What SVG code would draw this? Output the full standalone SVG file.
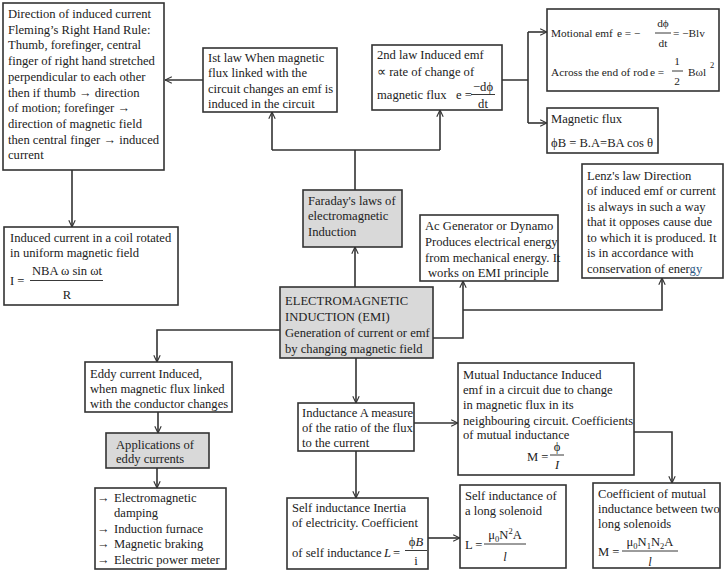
<svg xmlns="http://www.w3.org/2000/svg" width="725" height="577" viewBox="0 0 725 577">
<defs>
<style>
text{font-family:"Liberation Serif","Times New Roman",serif;font-size:12.6px;fill:#222}
.b{fill:#fff;stroke:#333;stroke-width:1.6}
.g{fill:#d9d9d9;stroke:#333;stroke-width:1.6}
.c{fill:none;stroke:#333;stroke-width:1.6}
.m{text-anchor:middle}
.i{font-style:italic}
.s{font-size:8.5px}
.k{font-size:11.3px}
.fl{stroke:#222;stroke-width:0.9}
</style>
<marker id="a" viewBox="0 0 10 10" refX="9.5" refY="5" markerWidth="8" markerHeight="8" orient="auto" markerUnits="userSpaceOnUse">
<path d="M1,1 L9.5,5 L1,9" fill="none" stroke="#333" stroke-width="1.4"/>
</marker>
</defs>
<rect width="725" height="577" fill="#fff"/>

<g id="connectors">
<path class="c" d="M355,190 V150 M272,150 H440" />
<path class="c" d="M272,150 V112" marker-end="url(#a)"/>
<path class="c" d="M440,150 V110" marker-end="url(#a)"/>
<path class="c" d="M203,80 H165" marker-end="url(#a)"/>
<path class="c" d="M72,170 V227" marker-end="url(#a)"/>
<path class="c" d="M502,80 H528 M528,32 V123"/>
<path class="c" d="M528,32 H547" marker-end="url(#a)"/>
<path class="c" d="M528,123 H547" marker-end="url(#a)"/>
<path class="c" d="M355,287 V247" marker-end="url(#a)"/>
<path class="c" d="M433,338 H463 V281" marker-end="url(#a)"/>
<path class="c" d="M463,310 H662 V278" marker-end="url(#a)"/>
<path class="c" d="M280,330 H157 V362" marker-end="url(#a)"/>
<path class="c" d="M158,412 V433" marker-end="url(#a)"/>
<path class="c" d="M157,468 V488" marker-end="url(#a)"/>
<path class="c" d="M356,358 V403" marker-end="url(#a)"/>
<path class="c" d="M414,423 H458" marker-end="url(#a)"/>
<path class="c" d="M356,451 V498" marker-end="url(#a)"/>
<path class="c" d="M634,432 H672 V483" marker-end="url(#a)"/>
<path class="c" d="M428,538 H460" marker-end="url(#a)"/>
</g>

<g id="direction">
<rect class="b" x="3" y="3" width="161" height="167"/>
<text x="8" y="18">Direction of induced current</text>
<text x="8" y="33.7">Fleming’s Right Hand Rule:</text>
<text x="8" y="49.4">Thumb, forefinger, central</text>
<text x="8" y="65.1">finger of right hand stretched</text>
<text x="8" y="80.8">perpendicular to each other</text>
<text x="8" y="96.5">then if thumb → direction</text>
<text x="8" y="112.2">of motion; forefinger →</text>
<text x="8" y="127.9">direction of magnetic field</text>
<text x="8" y="143.6">then central finger → induced</text>
<text x="8" y="159.3">current</text>
</g>

<g id="law1">
<rect class="b" x="203" y="48" width="134" height="64"/>
<text x="208" y="61.5">Ist law When magnetic</text>
<text x="208" y="77">flux linked with the</text>
<text x="208" y="92.5">circuit changes an emf is</text>
<text x="208" y="108">induced in the circuit</text>
</g>

<g id="law2">
<rect class="b" x="372" y="45" width="130" height="65"/>
<text x="377" y="59">2nd law Induced emf</text>
<text x="377" y="76">∝ rate of change of</text>
<text x="377" y="99">magnetic flux</text>
<text x="456" y="99">e =</text>
<text class="m" x="483" y="91">−dϕ</text>
<line class="fl" x1="471" y1="94.5" x2="495" y2="94.5"/>
<text class="m" x="483" y="107.5">dt</text>
</g>

<g id="motional">
<rect class="b" x="547" y="9" width="172" height="82"/>
<text class="k" x="551" y="37">Motional emf</text>
<text class="k" x="617" y="37">e = −</text>
<text class="m k" x="663" y="27">dϕ</text>
<line class="fl" x1="655" y1="33" x2="671" y2="33"/>
<text class="m k" x="663" y="47">dt</text>
<text class="k" x="673" y="37">= −Blv</text>
<text class="k" x="551" y="76">Across the end of rod</text>
<text class="k" x="650" y="76">e =</text>
<text class="m k" x="677" y="65">1</text>
<line class="fl" x1="672" y1="71" x2="683" y2="71"/>
<text class="m k" x="677" y="85">2</text>
<text class="k" x="688" y="76">Bωl</text>
<text class="s" x="710" y="68">2</text>
</g>

<g id="flux">
<rect class="b" x="547" y="108" width="111" height="45"/>
<text x="551" y="123">Magnetic flux</text>
<text x="551" y="147">ϕB = B.A=BA cos θ</text>
</g>

<g id="lenz">
<rect class="b" x="582" y="164" width="141" height="114"/>
<text x="587" y="179.5">Lenz's law Direction</text>
<text x="587" y="195">of induced emf or current</text>
<text x="587" y="210.5">is always in such a way</text>
<text x="587" y="226">that it opposes cause due</text>
<text x="587" y="241.5">to which it is produced. It</text>
<text x="587" y="257">is in accordance with</text>
<text x="587" y="272.5">conservation of ener<tspan fill="#2f5a86">gy</tspan></text>
</g>

<g id="generator">
<rect class="b" x="420" y="215" width="138" height="66"/>
<text x="425" y="229.5">Ac Generator or Dynamo</text>
<text x="425" y="245.5">Produces electrical energy</text>
<text x="425" y="261.5">from mechanical energy. It</text>
<text x="428" y="276.5">works on EMI principle</text>
</g>

<g id="faraday">
<rect class="g" x="303" y="190" width="99" height="57"/>
<text x="308" y="204.5">Faraday's laws of</text>
<text x="308" y="219.5">electromagnetic</text>
<text x="308" y="235.5">Induction</text>
</g>

<g id="emi">
<rect class="g" x="280" y="287" width="153" height="71"/>
<text x="285" y="304.5">ELECTROMAGNETIC</text>
<text x="285" y="320.5">INDUCTION (EMI)</text>
<text x="285" y="336.5">Generation of current or emf</text>
<text x="285" y="352.5">by changing magnetic field</text>
</g>

<g id="coil">
<rect class="b" x="4" y="227" width="174" height="78"/>
<text x="10" y="241.5">Induced current in a coil rotated</text>
<text x="10" y="256.5">in uniform magnetic field</text>
<text x="10" y="285">I =</text>
<text class="m" x="67" y="275">NBA ω sin ωt</text>
<line class="fl" x1="30" y1="280.5" x2="103" y2="280.5"/>
<text class="m" x="67" y="299">R</text>
</g>

<g id="eddy">
<rect class="b" x="85" y="362" width="147" height="50"/>
<text x="90" y="377.5">Eddy current Induced,</text>
<text x="90" y="392.5">when magnetic flux linked</text>
<text x="90" y="407.5">with the conductor changes</text>
</g>

<g id="applications">
<rect class="g" x="106" y="433" width="103" height="35"/>
<text x="116" y="449">Applications of</text>
<text x="116" y="463">eddy currents</text>
</g>

<g id="applist">
<rect class="b" x="95" y="488" width="131" height="81"/>
<text x="97" y="501.5">→</text><text x="114" y="501.5">Electromagnetic</text>
<text x="114" y="517">damping</text>
<text x="97" y="532.5">→</text><text x="114" y="532.5">Induction furnace</text>
<text x="97" y="548">→</text><text x="114" y="548">Magnetic braking</text>
<text x="97" y="563.5">→</text><text x="114" y="563.5">Electric power meter</text>
</g>

<g id="inductance">
<rect class="b" x="298" y="403" width="116" height="48"/>
<text x="302" y="416.5">Inductance A measure</text>
<text x="302" y="431.5">of the ratio of the flux</text>
<text x="302" y="447">to the current</text>
</g>

<g id="mutual">
<rect class="b" x="458" y="363" width="176" height="112"/>
<text x="463" y="379">Mutual Inductance Induced</text>
<text x="463" y="394">emf in a circuit due to change</text>
<text x="463" y="409">in magnetic flux in its</text>
<text x="463" y="424.5">neighbouring circuit. Coefficients</text>
<text x="463" y="438.5">of mutual inductance</text>
<text x="527" y="461">M =</text>
<text class="m" x="557" y="451">ϕ</text>
<line class="fl" x1="550" y1="455" x2="564" y2="455"/>
<text class="m i" x="557" y="469">I</text>
</g>

<g id="self">
<rect class="b" x="287" y="498" width="141" height="71"/>
<text x="292" y="512">Self inductance Inertia</text>
<text x="292" y="527">of electricity. Coefficient</text>
<text x="292" y="557">of self inductance</text>
<text class="i" x="384" y="557">L</text>
<text x="393" y="557">=</text>
<text class="m" x="416" y="546"><tspan>ϕ</tspan><tspan class="i">B</tspan></text>
<line class="fl" x1="405" y1="550.5" x2="427" y2="550.5"/>
<text class="m" x="416" y="565">i</text>
</g>

<g id="solenoid">
<rect class="b" x="460" y="485" width="106" height="83"/>
<text x="465" y="500">Self inductance of</text>
<text x="465" y="515">a long solenoid</text>
<text x="465" y="549">L =</text>
<text class="m" x="505" y="539">μ<tspan class="s" dy="3">0</tspan><tspan dy="-3">N</tspan><tspan class="s" dy="-5">2</tspan><tspan dy="5">A</tspan></text>
<line class="fl" x1="484" y1="544" x2="526" y2="544"/>
<text class="m i" x="505" y="561">l</text>
</g>

<g id="coefficient">
<rect class="b" x="593" y="483" width="127" height="85"/>
<text x="598" y="498">Coefficient of mutual</text>
<text x="598" y="513">inductance between two</text>
<text x="598" y="528">long solenoids</text>
<text x="598" y="556">M =</text>
<text class="m" x="650" y="546">μ<tspan class="s" dy="3">0</tspan><tspan dy="-3">N</tspan><tspan class="s" dy="3">1</tspan><tspan dy="-3">N</tspan><tspan class="s" dy="3">2</tspan><tspan dy="-3">A</tspan></text>
<line class="fl" x1="622" y1="551" x2="678" y2="551"/>
<text class="m i" x="650" y="566">l</text>
</g>
</svg>
